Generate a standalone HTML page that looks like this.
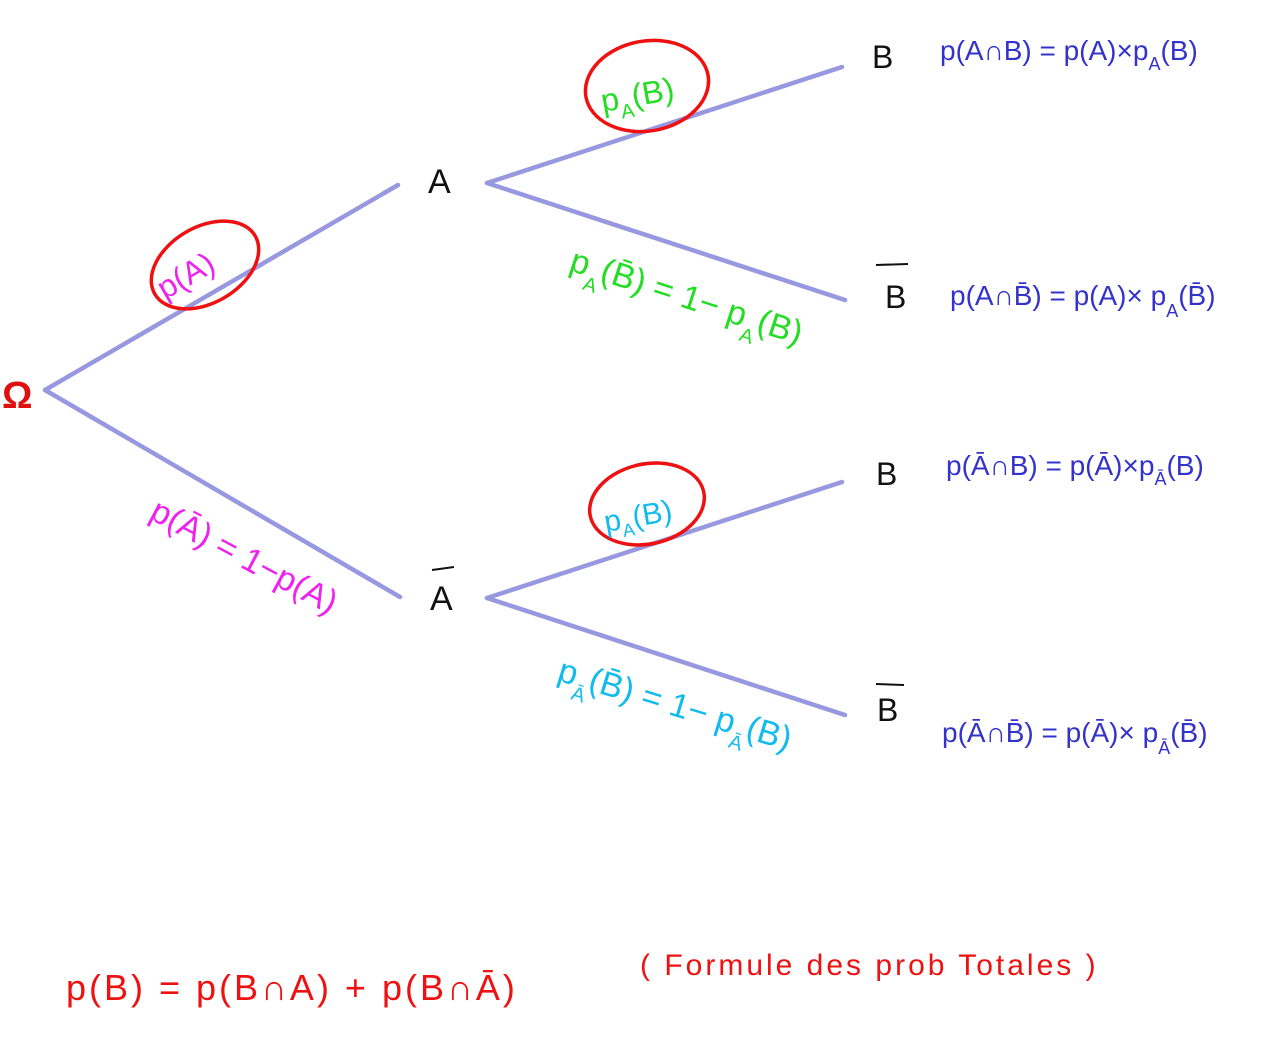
<!DOCTYPE html>
<html><head><meta charset="utf-8"><style>
html,body{margin:0;padding:0;background:#fff;}
svg{display:block;}
text{font-family:"Liberation Sans",sans-serif;}
</style></head><body>
<svg width="1272" height="1047" viewBox="0 0 1272 1047" xmlns="http://www.w3.org/2000/svg">
<g stroke="#9898e0" stroke-width="4.5" stroke-linecap="round" fill="none">
<line x1="45" y1="390" x2="398" y2="185"/>
<line x1="45" y1="390" x2="400" y2="597"/>
<line x1="487" y1="183" x2="842" y2="67"/>
<line x1="487" y1="183" x2="845" y2="300"/>
<line x1="487" y1="598" x2="842" y2="482"/>
<line x1="487" y1="598" x2="845" y2="715"/>
</g>
<g stroke="#ee1111" stroke-width="3.5" fill="none">
<ellipse cx="205" cy="265" rx="58" ry="38" transform="rotate(-30 205 265)"/>
<ellipse cx="647" cy="86" rx="62" ry="45" transform="rotate(-10 647 86)"/>
<ellipse cx="647" cy="504" rx="58" ry="40" transform="rotate(-12 647 504)"/>
</g>
<text x="2" y="408" font-size="38" fill="#e01010" font-weight="bold">Ω</text>
<text x="428" y="193" font-size="34" fill="#111">A</text>
<text x="430" y="610" font-size="34" fill="#111">A</text>
<line x1="432" y1="570" x2="454" y2="567" stroke="#111" stroke-width="2"/>
<text x="872" y="68" font-size="32" fill="#111">B</text>
<text x="885" y="308" font-size="32" fill="#111">B</text>
<line x1="876" y1="265" x2="908" y2="264" stroke="#111" stroke-width="2"/>
<text x="876" y="485" font-size="32" fill="#111">B</text>
<text x="877" y="721" font-size="32" fill="#111">B</text>
<line x1="876" y1="684" x2="904" y2="685" stroke="#111" stroke-width="2"/>
<text x="165" y="300" font-size="32" fill="#ee22ee" transform="rotate(-30 165 300)">p(A)</text>
<text x="603" y="112" font-size="32" fill="#22dd22" transform="rotate(-10 603 112)">p<tspan font-size="20" dy="10">A</tspan><tspan dy="-10">(B)</tspan></text>
<text x="606" y="532" font-size="30" fill="#11bbee" transform="rotate(-10 606 532)">p<tspan font-size="18" dy="8">A</tspan><tspan dy="-8">(B)</tspan></text>
<text x="148" y="518" font-size="34" fill="#ee22ee" transform="rotate(28 148 518)">p(Ā) = 1−p(A)</text>
<text x="568" y="270" font-size="34" fill="#22dd22" transform="rotate(18 568 270)">p<tspan font-size="20" dy="14">A</tspan><tspan dy="-14">(B̄) = 1− p</tspan><tspan font-size="20" dy="14">A</tspan><tspan dy="-14">(B)</tspan></text>
<text x="556" y="680" font-size="34" fill="#11bbee" transform="rotate(17 556 680)">p<tspan font-size="20" dy="14">Ā</tspan><tspan dy="-14">(B̄) = 1− p</tspan><tspan font-size="20" dy="14">Ā</tspan><tspan dy="-14">(B)</tspan></text>
<g fill="#3333cc" font-size="28">
<text x="940" y="60">p(A∩B) = p(A)×p<tspan font-size="18" dy="10">A</tspan><tspan dy="-10">(B)</tspan></text>
<text x="950" y="305">p(A∩B̄) = p(A)× p<tspan font-size="18" dy="12">A</tspan><tspan dy="-12">(B̄)</tspan></text>
<text x="946" y="475">p(Ā∩B) = p(Ā)×p<tspan font-size="18" dy="10">Ā</tspan><tspan dy="-10">(B)</tspan></text>
<text x="942" y="742">p(Ā∩B̄) = p(Ā)× p<tspan font-size="18" dy="12">Ā</tspan><tspan dy="-12">(B̄)</tspan></text>
</g>
<text x="66" y="1000" font-size="36" fill="#ee1111" letter-spacing="3">p(B) = p(B∩A) + p(B∩Ā)</text>
<text x="640" y="975" font-size="30" fill="#ee1111" letter-spacing="3">( Formule des prob Totales )</text>
</svg>
</body></html>
